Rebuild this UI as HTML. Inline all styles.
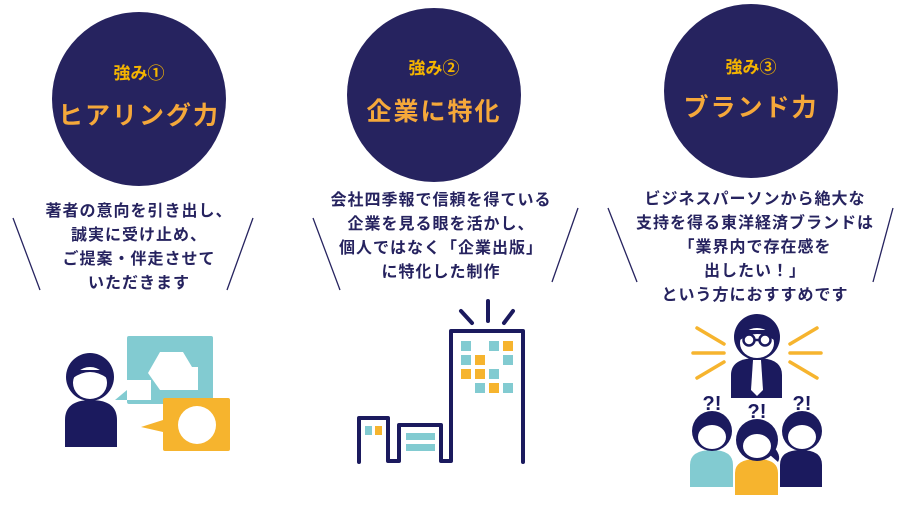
<!DOCTYPE html>
<html><head><meta charset="utf-8"><style>
html,body{margin:0;padding:0;background:#fff;}
body{width:902px;height:522px;position:relative;overflow:hidden;font-family:"Liberation Sans","Noto Sans CJK JP",sans-serif;}
.c{position:absolute;border-radius:50%;background:#26235f;width:174px;height:174px;}
.t{position:absolute;text-align:center;font-weight:bold;white-space:nowrap;}
.s{color:#f4b400;font-size:17px;}
.h{color:#f5a83a;font-size:25px;letter-spacing:2px;}
.b{color:#26235f;font-size:16px;line-height:24px;letter-spacing:1px;}
svg{position:absolute;left:0;top:0;}
</style></head><body>
<div class="c" style="left:52px;top:12px"></div>
<div class="c" style="left:347px;top:8px"></div>
<div class="c" style="left:664px;top:4px"></div>
<div class="t s" style="left:52px;width:174px;top:59px">強み①</div>
<div class="t h" style="left:52px;width:174px;top:96px">ヒアリング力</div>
<div class="t s" style="left:347px;width:174px;top:54px">強み②</div>
<div class="t h" style="left:347px;width:174px;top:92px">企業に特化</div>
<div class="t s" style="left:664px;width:174px;top:53px">強み③</div>
<div class="t h" style="left:664px;width:174px;top:88px">ブランド力</div>
<div class="t b" style="left:0;width:278px;top:200px">著者の意向を引き出し、<br>誠実に受け止め、<br>ご提案・伴走させて<br>いただきます</div>
<div class="t b" style="left:300px;width:282px;top:189px">会社四季報で信頼を得ている<br>企業を見る眼を活かし、<br>個人ではなく「企業出版」<br>に特化した制作</div>
<div class="t b" style="left:600px;width:310px;top:188px">ビジネスパーソンから絶大な<br>支持を得る東洋経済ブランドは<br>「業界内で存在感を<br>出したい！」<br>という方におすすめです</div>
<svg width="902" height="522" viewBox="0 0 902 522">
<g stroke="#26235f" stroke-width="1.3">
<line x1="13" y1="218" x2="40" y2="290"/><line x1="253" y1="218" x2="227" y2="290"/>
<line x1="313" y1="218" x2="340" y2="290"/><line x1="578" y1="208" x2="552" y2="282"/>
<line x1="608" y1="208" x2="637" y2="282"/><line x1="893" y1="208" x2="873" y2="282"/>
</g>
<rect x="127" y="336" width="86" height="68" rx="2" fill="#82cbd1"/>
<polygon points="148,373 160,352 183,352 192,367 198,367 198,390 160,390" fill="#fff"/>
<rect x="127" y="380" width="24" height="20" fill="#fff"/>
<polygon points="115,400 127,390 127,400" fill="#82cbd1"/>
<rect x="163" y="398" width="67" height="53" rx="2" fill="#f6b42e"/>
<polygon points="141,427 163,420 163,432" fill="#f6b42e"/>
<circle cx="197" cy="425" r="19" fill="#fff"/>
<circle cx="90" cy="377" r="24" fill="#1b1a5e"/>
<ellipse cx="90" cy="383" rx="17" ry="16" fill="#fff"/>
<path d="M73,378 Q90,366 107,378 L107,370 L73,370Z" fill="#1b1a5e"/>
<path d="M65,447 L65,420 Q65,400 91,400 Q117,400 117,420 L117,447Z" fill="#1b1a5e"/>
<g fill="none" stroke="#1b1a5e" stroke-width="4" stroke-linejoin="round" stroke-linecap="round">
<path d="M359,462 L359,418 L388,418 L388,461 L399,461 L399,425 L441,425 L441,461 L451,461 L451,331 L523,331 L523,462"/>
<line x1="461" y1="311" x2="472" y2="323"/><line x1="488" y1="301" x2="488" y2="321"/><line x1="513" y1="311" x2="504" y2="323"/>
</g>
<g fill="#82cbd1">
<rect x="461" y="341" width="10" height="10"/><rect x="489" y="341" width="10" height="10"/>
<rect x="461" y="355" width="10" height="10"/><rect x="503" y="355" width="10" height="10"/>
<rect x="489" y="369" width="10" height="10"/>
<rect x="475" y="383" width="10" height="10"/><rect x="503" y="383" width="10" height="10"/>
<rect x="365" y="426" width="7" height="9"/>
<rect x="406" y="433" width="29" height="7"/><rect x="406" y="444" width="29" height="7"/>
</g>
<g fill="#f6b42e">
<rect x="503" y="341" width="10" height="10"/><rect x="475" y="355" width="10" height="10"/>
<rect x="461" y="369" width="10" height="10"/><rect x="475" y="369" width="10" height="10"/>
<rect x="489" y="383" width="10" height="10"/><rect x="375" y="426" width="7" height="9"/>
</g>
<g stroke="#f6b42e" stroke-width="3.5" stroke-linecap="round">
<line x1="697" y1="328" x2="724" y2="344"/><line x1="693" y1="353" x2="724" y2="353"/><line x1="697" y1="378" x2="724" y2="362"/>
<line x1="817" y1="328" x2="790" y2="344"/><line x1="821" y1="353" x2="790" y2="353"/><line x1="817" y1="378" x2="790" y2="362"/>
</g>
<path d="M731,398 L731,375 Q731,358 757,358 Q782,358 782,375 L782,398Z" fill="#1b1a5e"/>
<polygon points="753,360 761,360 763,390 757,396 751,390" fill="#fff"/>
<circle cx="757" cy="337" r="23" fill="#1b1a5e"/>
<ellipse cx="757" cy="343" rx="17" ry="15" fill="#fff"/>
<path d="M740,340 Q757,328 774,340 L774,330 L740,330Z" fill="#1b1a5e"/>
<g fill="none" stroke="#1b1a5e" stroke-width="2.5"><circle cx="749" cy="340" r="5.5"/><circle cx="765" cy="340" r="5.5"/><line x1="754" y1="340" x2="760" y2="340"/></g>
<g font-family="Liberation Sans,sans-serif" font-weight="bold" font-size="20" fill="#1b1a5e" text-anchor="middle">
<text x="712" y="410">?!</text><text x="757" y="418">?!</text><text x="802" y="410">?!</text></g>
<path d="M690,487 L690,465 Q690,450 712,450 Q733,450 733,465 L733,487Z" fill="#82cbd1"/>
<path d="M780,487 L780,465 Q780,450 801,450 Q822,450 822,465 L822,487Z" fill="#1b1a5e"/>
<circle cx="712" cy="431" r="20" fill="#1b1a5e"/><ellipse cx="712" cy="437" rx="14" ry="12" fill="#fff"/>
<circle cx="802" cy="431" r="20" fill="#1b1a5e"/><ellipse cx="802" cy="437" rx="14" ry="12" fill="#fff"/>
<path d="M772,445 Q782,455 778,462 L770,455Z" fill="#1b1a5e"/>
<path d="M735,495 L735,473 Q735,459 757,459 Q778,459 778,473 L778,495Z" fill="#f6b42e"/>
<circle cx="757" cy="440" r="21" fill="#1b1a5e"/><ellipse cx="757" cy="446" rx="14" ry="12" fill="#fff"/>
</svg>
</body></html>
